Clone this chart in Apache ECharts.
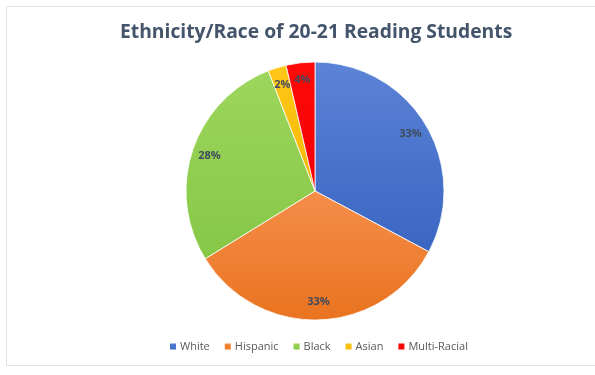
<!DOCTYPE html>
<html><head><meta charset="utf-8">
<script src="https://cdn.jsdelivr.net/npm/echarts@6/dist/echarts.min.js"></script>
<style>html,body{margin:0;padding:0;background:#fff}#c{width:595px;height:375px}</style>
</head><body><div id="c"></div>
<script>
var categories = ['White', 'Hispanic', 'Black', 'Asian', 'Multi-Racial'];
var values = [32.8, 33.4, 27.9, 2.3, 3.6];
var colors = [
  ['#5b83d6', '#3a66c2'],
  ['#f58e4a', '#e9731f'],
  ['#9dd65c', '#86c746'],
  ['#ffc71a', '#f5b800'],
  ['#ff0a0a', '#f20000']
];
var data = categories.map(function (n, i) {
  return { name: n, value: values[i], itemStyle: { color: new echarts.graphic.LinearGradient(0, 0, 0, 1, [{offset: 0, color: colors[i][0]}, {offset: 1, color: colors[i][1]}]) } };
});
var chart = echarts.init(document.getElementById('c'), null, {renderer: 'canvas'});
var R = 129;
chart.setOption({
  animation: false,
  graphic: [{ type: 'rect', shape: {x: 6.5, y: 6.5, width: 600, height: 359}, style: {fill: 'none', stroke: '#dde2e9', lineWidth: 1}, silent: true }],
  title: { text: 'Ethnicity/Race of 20-21 Reading Students', left: 115, top: 18,
    textStyle: { fontFamily: 'Open Sans', fontSize: 19.3, fontWeight: 'bold', color: '#44546a' } },
  legend: { bottom: 18, left: 163, itemWidth: 8, itemHeight: 8, itemGap: 13, icon: 'rect',
    textStyle: { fontFamily: 'Open Sans', fontSize: 11, color: '#595959', padding: [0, 0, 0, -2] },
    data: categories },
  series: [{
    type: 'pie', center: [315, 191], radius: [0, R], startAngle: 90, clockwise: true,
    label: { show: false }, labelLine: { show: false },
    itemStyle: { borderColor: '#fff', borderWidth: 0.8 },
    data: data
  }, {
    type: 'pie', center: [315, 191], radius: [R * 0.68, R], startAngle: 90, clockwise: true,
    silent: true, percentPrecision: 0, legendHoverLink: false,
    itemStyle: { color: 'rgba(0,0,0,0)' },
    label: { show: true, position: 'inside', formatter: '{d}%', fontFamily: 'Open Sans', fontSize: 11, fontWeight: 'bold', color: '#404b5c' },
    labelLine: { show: false },
    data: categories.map(function (n, i) { return { name: n + ' ', value: values[i] }; })
  }]
});
</script></body></html>
